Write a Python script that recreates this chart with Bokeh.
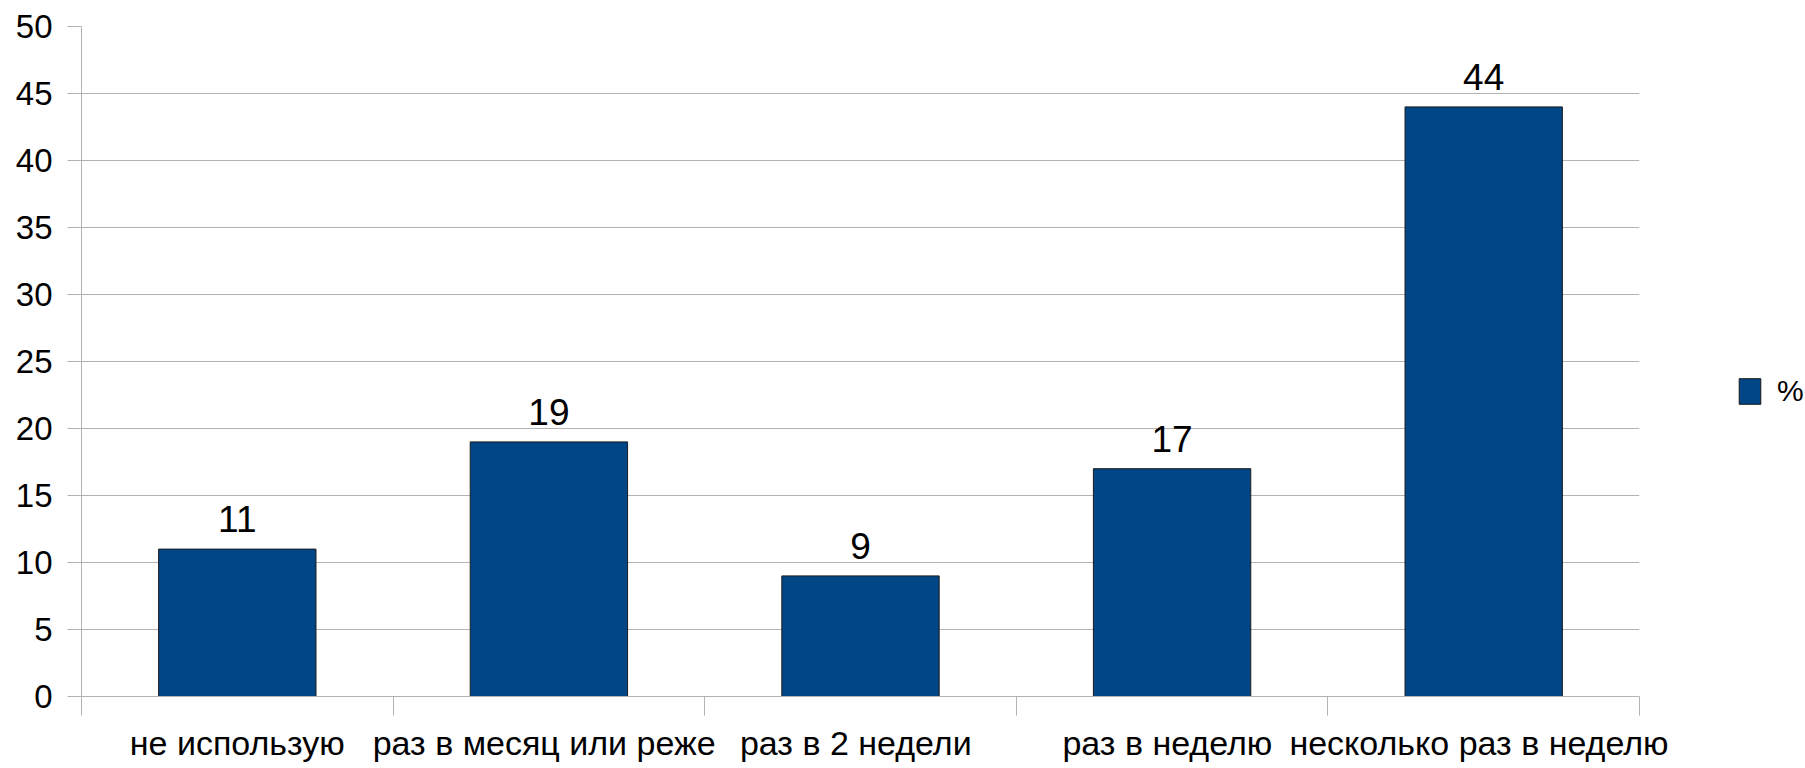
from bokeh.plotting import figure
from bokeh.layouts import row
from bokeh.models import Range1d, FixedTicker, Legend, LegendItem, ColumnDataSource
from bokeh.embed import file_html
from bokeh.resources import INLINE

categories = ["не использую", "раз в  месяц или реже", "раз в  2 недели", "раз в  неделю", "несколько раз в  неделю"]
values = [11, 19, 9, 17, 44]
y_ticks = [0, 5, 10, 15, 20, 25, 30, 35, 40, 45, 50]
series_name = "%"

FONT = "Liberation Sans"
GRID = "#b3b3b3"
BAR = "#004586"
EDGE = "#1c1c1c"

n = len(categories)
xs = [i + 0.5 for i in range(n)]
boundaries = list(range(n + 1))

src = ColumnDataSource(dict(x=xs, top=values, lab=[str(v) for v in values]))

p = figure(width=1700, height=766, output_backend="svg", toolbar_location=None,
           x_range=Range1d(0, n), y_range=Range1d(y_ticks[0], y_ticks[-1]),
           min_border_left=81, min_border_right=61, min_border_top=26, min_border_bottom=70)
p.outline_line_color = None
p.background_fill_color = "white"
p.border_fill_color = "white"

bars = p.vbar(x="x", top="top", bottom=0, width=0.505, source=src,
              fill_color=BAR, line_color=EDGE, line_width=1)

p.text(x="x", y="top", text="lab", source=src, y_offset=-30,
       text_align="center", text_baseline="alphabetic",
       text_font={"value": FONT}, text_font_size="37px", text_color="black")

# y axis
p.yaxis.ticker = FixedTicker(ticks=y_ticks)
p.yaxis.major_tick_out = 14
p.yaxis.major_tick_in = 0
p.yaxis.minor_tick_line_color = None
p.yaxis.major_tick_line_color = GRID
p.yaxis.axis_line_color = GRID
p.yaxis.major_label_standoff = 15
p.yaxis.major_label_text_font = FONT
p.yaxis.major_label_text_font_size = "33px"
p.yaxis.major_label_text_color = "black"

# x axis: labels at centers, tick marks at boundaries
p.xaxis.ticker = FixedTicker(ticks=xs, minor_ticks=boundaries)
p.xaxis.major_label_overrides = {x: c for x, c in zip(xs, categories)}
p.xaxis.major_tick_out = 0
p.xaxis.major_tick_in = 0
p.xaxis.major_tick_line_color = None
p.xaxis.minor_tick_out = 19
p.xaxis.minor_tick_in = 0
p.xaxis.minor_tick_line_color = GRID
p.xaxis.axis_line_color = GRID
p.xaxis.major_label_standoff = 8
p.xaxis.major_label_text_font = FONT
p.xaxis.major_label_text_font_size = "34px"
p.xaxis.major_label_text_color = "black"

p.ygrid.ticker = FixedTicker(ticks=y_ticks)
p.ygrid.grid_line_color = GRID
p.xgrid.ticker = FixedTicker(ticks=[boundaries[-1]])
p.xgrid.grid_line_color = GRID

# legend figure to the right (its dummy bar lies outside its visible range)
lg = figure(width=105, height=766, output_backend="svg", toolbar_location=None,
            x_axis_type=None, y_axis_type=None,
            x_range=Range1d(0, 1), y_range=Range1d(0, 1),
            min_border_left=0, min_border_right=0, min_border_top=26, min_border_bottom=70)
lg.outline_line_color = None
lg.xgrid.visible = False
lg.ygrid.visible = False
lg_src = ColumnDataSource(dict(x=[5], top=[5]))
lg_r = lg.vbar(x="x", top="top", bottom=4, width=0.5, source=lg_src,
               fill_color=BAR, line_color=EDGE, line_width=1)

legend = Legend(items=[LegendItem(label=series_name, renderers=[lg_r])],
                location=(36, 288), orientation="vertical",
                glyph_width=27, glyph_height=32, label_standoff=14,
                label_text_font=FONT, label_text_font_size="30px",
                label_text_color="black",
                padding=0, margin=0, spacing=0,
                border_line_color=None, background_fill_color=None)
lg.add_layout(legend, "center")

layout = row(p, lg, spacing=0)
open("out.html", "w").write(file_html(layout, INLINE))
